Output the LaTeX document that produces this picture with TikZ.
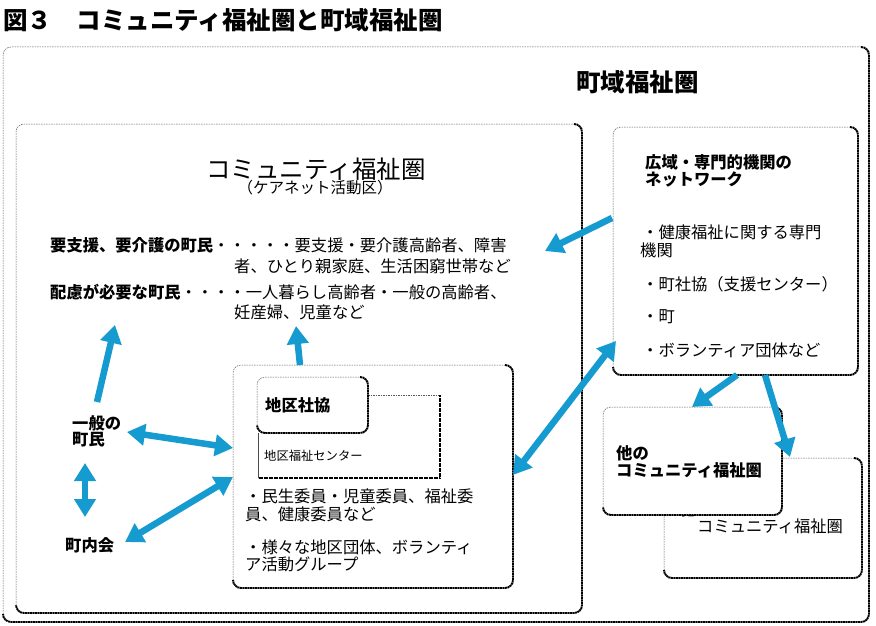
\documentclass[tikz,border=0pt]{standalone}
\usepackage{fontspec}
\setmainfont{Noto Sans CJK JP}
\usetikzlibrary{arrows.meta}
\definecolor{arrowblue}{RGB}{22,155,208}
\tikzset{
  lightedge/.style={draw=black!65, line width=0.5pt, dash pattern=on 1.5pt off 1pt},
  heavyedge/.style={draw=black, line width=1.9pt, dash pattern=on 2pt off 0.5pt},
  area/.style={fill=white, draw=none, inner sep=0pt, outer sep=0pt, anchor=north west},
  lbl/.style={inner sep=0pt, anchor=west, align=left},
  fbig/.style={font=\fontsize{24.5}{26}\selectfont},
  fbigb/.style={font=\bfseries\fontsize{24.5}{26}\selectfont},
  fmid/.style={font=\fontsize{16.3}{18}\selectfont},
  fmidb/.style={font=\bfseries\fontsize{16.3}{18}\selectfont},
  fsub/.style={font=\fontsize{15.5}{17}\selectfont},
  fsmall/.style={font=\fontsize{12.3}{14}\selectfont},
  onearrow/.style={draw=arrowblue, line width=6.5pt, -{Triangle[length=18pt,width=21pt]}},
  twoarrow/.style={draw=arrowblue, line width=6.5pt, {Triangle[length=18pt,width=21pt]}-{Triangle[length=18pt,width=21pt]}},
}
\newcommand\boxedges[2][8pt]{%
  \draw[lightedge, rounded corners=#1] ([yshift=#1]#2.south west) -- (#2.north west) -- ([xshift=-#1]#2.north east);
  \draw[heavyedge, rounded corners=#1] ([xshift=-#1]#2.north east) -- (#2.north east) -- (#2.south east) -- (#2.south west) -- ([yshift=#1]#2.south west);
}
\newcommand\squareedges[1]{%
  \draw[draw=black!70, line width=0.6pt] (#1.south west) -- (#1.north west);
  \draw[lightedge] (#1.north west) -- (#1.north east);
  \draw[heavyedge] (#1.north east) -- (#1.south east) -- (#1.south west);
}
\begin{document}
\begin{tikzpicture}[x=1pt,y=-1pt]
\useasboundingbox (0,0) rectangle (876,626);
\fill[white] (0,0) rectangle (876,626);

% title
\node[lbl, fbigb] (title) at (3,20) {図３　コミュニティ福祉圏と町域福祉圏};

% boxes
\node[area, minimum width=866pt, minimum height=575pt] (town) at (3,47) {};
\boxedges{town}
\node[area, minimum width=566pt, minimum height=489pt] (comm) at (16,124) {};
\boxedges{comm}
\node[area, minimum width=245pt, minimum height=248pt] (net) at (613,127) {};
\boxedges{net}
\node[area, minimum width=280pt, minimum height=223pt] (dist) at (233,365) {};
\boxedges{dist}
\node[area, minimum width=182pt, minimum height=83pt] (welfctr) at (258,395) {};
\squareedges{welfctr}
\node[area, minimum width=111pt, minimum height=56pt] (shakyo) at (257,377) {};
\boxedges{shakyo}
\node[area, minimum width=198pt, minimum height=120pt] (otherB) at (664,458) {};
\boxedges{otherB}
\node[lbl, fmidb] (otherBa) at (680,509) {他の};
\node[lbl, fmid] (otherBb) at (697,526) {コミュニティ福祉圏};
\node[area, minimum width=179pt, minimum height=108pt] (otherA) at (603,407) {};
\boxedges{otherA}

% texts
\node[lbl, fbigb] (townT) at (576,82) {町域福祉圏};
\node[fbig, inner sep=0pt] (commT) at (316,169) {コミュニティ福祉圏};
\node[fsub, inner sep=0pt] (commS) at (315,188) {（ケアネット活動区）};

\node[lbl, fmid] (l1) at (50,245) {{\bfseries 要支援、要介護の町民}・・・・・要支援・要介護高齢者、障害};
\node[lbl, fmid] (l2) at (234,266) {者、ひとり親家庭、生活困窮世帯など};
\node[lbl, fmid] (l3) at (50,292) {{\bfseries 配慮が必要な町民}・・・・一人暮らし高齢者・一般の高齢者、};
\node[lbl, fmid] (l4) at (234,312) {妊産婦、児童など};

\node[lbl, fmidb] (netT1) at (645,162) {広域・専門的機関の};
\node[lbl, fmidb] (netT2) at (645,180) {ネットワーク};
\node[lbl, fmid] (n1) at (642,232) {・健康福祉に関する専門};
\node[lbl, fmid] (n1b) at (640,250) {機関};
\node[lbl, fmid] (n2) at (642,284) {・町社協（支援センター）};
\node[lbl, fmid] (n3) at (642,317) {・町};
\node[lbl, fmid] (n4) at (642,350) {・ボランティア団体など};

\node[lbl, fmidb] (shakyoT) at (265,405) {地区社協};
\node[lbl, fsmall] (welfctrT) at (264,456) {地区福祉センター};
\node[lbl, fmid] (d1) at (245,496) {・民生委員・児童委員、福祉委};
\node[lbl, fmid] (d1b) at (245,514) {員、健康委員など};
\node[lbl, fmid] (d2) at (245,547) {・様々な地区団体、ボランティ};
\node[lbl, fmid] (d2b) at (245,564) {ア活動グループ};

\node[lbl, fmidb] (otherAa) at (616,453) {他の};
\node[lbl, fmidb] (otherAb) at (616,470) {コミュニティ福祉圏};

\node[lbl, fmidb] (ippan1) at (72,423) {一般の};
\node[lbl, fmidb] (ippan2) at (72,440) {町民};
\node[lbl, fmidb] (chonai) at (65,545) {町内会};

% arrow end points
\coordinate (a1s) at (612,218);  \coordinate (a1e) at (545,251);
\coordinate (a2s) at (513,475);  \coordinate (a2e) at (616,341);
\coordinate (a3s) at (737,375);  \coordinate (a3e) at (692,407);
\coordinate (a4s) at (765,375);  \coordinate (a4e) at (790,457);
\coordinate (a5s) at (97,402);   \coordinate (a5e) at (115,325);
\coordinate (a6s) at (300,365);  \coordinate (a6e) at (296,326);
\coordinate (a7s) at (127,432);  \coordinate (a7e) at (233,448);
\coordinate (a8s) at (85,463);   \coordinate (a8e) at (85,517);
\coordinate (a9s) at (125,542);  \coordinate (a9e) at (233,477);

\draw[onearrow] (a1s) -- (a1e);
\draw[twoarrow] (a2s) -- (a2e);
\draw[onearrow] (a3s) -- (a3e);
\draw[onearrow] (a4s) -- (a4e);
\draw[onearrow] (a5s) -- (a5e);
\draw[onearrow] (a6s) -- (a6e);
\draw[twoarrow] (a7s) -- (a7e);
\draw[twoarrow] (a8s) -- (a8e);
\draw[twoarrow] (a9s) -- (a9e);
\end{tikzpicture}
\end{document}
